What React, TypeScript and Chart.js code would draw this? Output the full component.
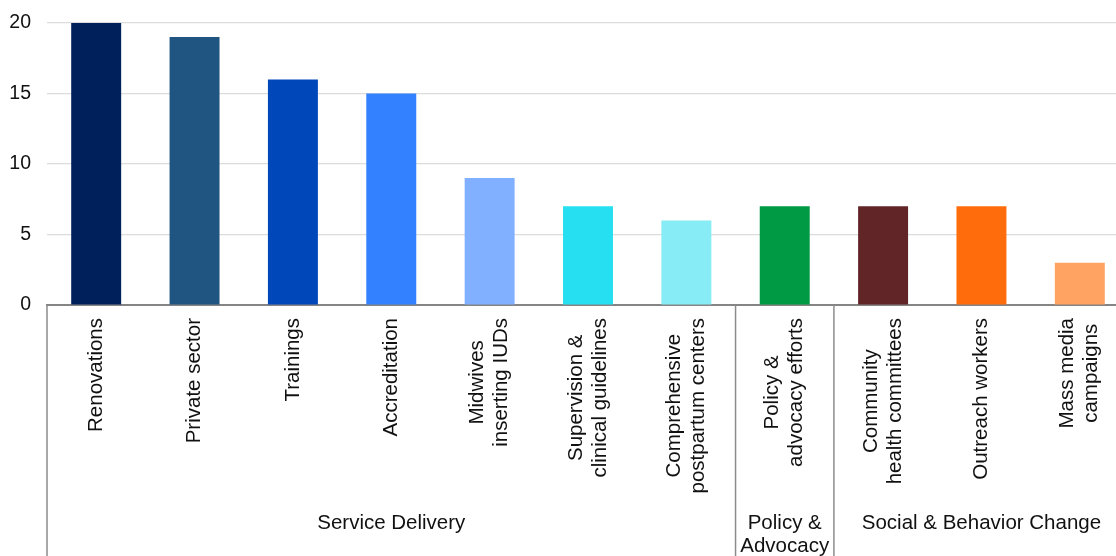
import React, { useEffect, useRef } from "react";
import { Chart, registerables } from "chart.js";

Chart.register(...registerables);

const categories: string[][] = [
  ["Renovations"],
  ["Private sector"],
  ["Trainings"],
  ["Accreditation"],
  ["Midwives", "inserting IUDs"],
  ["Supervision &", "clinical guidelines"],
  ["Comprehensive", "postpartum centers"],
  ["Policy &", "advocacy efforts"],
  ["Community", "health committees"],
  ["Outreach workers"],
  ["Mass media", "campaigns"],
];

const values = [20, 19, 16, 15, 9, 7, 6, 7, 7, 7, 3];

const barColors = [
  "#00205C",
  "#215581",
  "#0047BA",
  "#3381FF",
  "#80B0FF",
  "#26E0F2",
  "#88ECF7",
  "#009A44",
  "#612427",
  "#FF6C0C",
  "#FFA362",
];

const groupLabels: string[][] = [
  ["Service Delivery"],
  ["Policy &", "Advocacy"],
  ["Social & Behavior Change"],
];
const groupSizes = [7, 1, 3];

const yTicks = [0, 5, 10, 15, 20];

const FONT = "'Liberation Sans', Arial, Helvetica, sans-serif";

export default function App() {
  const ref = useRef<HTMLCanvasElement>(null);

  useEffect(() => {
    if (!ref.current) return;
    const labelPlugin = {
      id: "groupLabels",
      afterDraw(chart: any) {
        const { ctx, chartArea, scales } = chart;
        const x = scales.x;
        const H = chart.height;
        ctx.save();
        ctx.fillStyle = "#111";
        ctx.font = `20.5px ${FONT}`;
        const lh = 24;
        categories.forEach((lines, i) => {
          const cx = x.getPixelForValue(i);
          const w = Math.max(...lines.map((l) => ctx.measureText(l).width));
          const cy = chartArea.bottom + 13 + w / 2;
          lines.forEach((line, j) => {
            ctx.save();
            ctx.translate(cx + (j - (lines.length - 1) / 2) * lh, cy);
            ctx.rotate(-Math.PI / 2);
            ctx.textAlign = "center";
            ctx.textBaseline = "middle";
            ctx.fillText(line, 0, 0);
            ctx.restore();
          });
        });

        // separators
        ctx.strokeStyle = "#8c8c8c";
        ctx.lineWidth = 1.5;
        let start = 0;
        const bounds: number[] = [0];
        groupSizes.forEach((s) => {
          start += s;
          bounds.push(start);
        });
        bounds.forEach((b) => {
          const px = x.getPixelForValue(b - 0.5);
          ctx.beginPath();
          ctx.moveTo(px, chartArea.bottom);
          ctx.lineTo(px, H);
          ctx.stroke();
        });

        // group labels
        ctx.textAlign = "center";
        ctx.textBaseline = "middle";
        groupLabels.forEach((lines, g) => {
          const l = x.getPixelForValue(bounds[g] - 0.5);
          const r = x.getPixelForValue(bounds[g + 1] - 0.5);
          const cx = (l + r) / 2;
          lines.forEach((line, j) => {
            ctx.fillText(line, cx, 523 + j * 23.5);
          });
        });
        ctx.restore();
      },
    };

    const chart = new Chart(ref.current, {
      type: "bar",
      data: {
        labels: categories.map((c) => c.join(" ")),
        datasets: [
          {
            data: values,
            backgroundColor: barColors,
            borderWidth: 0,
            categoryPercentage: 1,
            barPercentage: 0.508,
          },
        ],
      },
      options: {
        responsive: false,
        animation: false,
        layout: { padding: { top: 23, right: 11, left: 0, bottom: 0 } },
        plugins: {
          legend: { display: false },
          tooltip: { enabled: false },
        },
        scales: {
          x: {
            ticks: { display: false },
            grid: { display: false },
            border: { display: true, color: "#858585", width: 2 },
            afterFit: (scale: any) => {
              scale.height = 251;
              scale.paddingLeft = 0;
              scale.paddingRight = 0;
            },
          },
          y: {
            min: 0,
            max: 20,
            afterBuildTicks: (scale: any) => {
              scale.ticks = yTicks.map((v) => ({ value: v }));
            },
            ticks: {
              padding: 16,
              color: "#111",
              font: { size: 19.5, family: FONT },
            },
            grid: { color: "#dcdcdc", lineWidth: 1.2, drawTicks: false },
            border: { display: false },
            afterFit: (scale: any) => {
              scale.width = 47;
              scale.paddingTop = 0;
              scale.paddingBottom = 0;
            },
          },
        },
      },
      plugins: [labelPlugin],
    });
    return () => chart.destroy();
  }, []);

  return (
    <div
      style={{
        position: "fixed",
        left: 0,
        top: 0,
        width: 1116,
        height: 556,
        overflow: "hidden",
        background: "#fff",
      }}
    >
      <canvas
        ref={ref}
        width={1140}
        height={556}
        style={{ width: 1140, height: 556, display: "block" }}
      />
    </div>
  );
}
